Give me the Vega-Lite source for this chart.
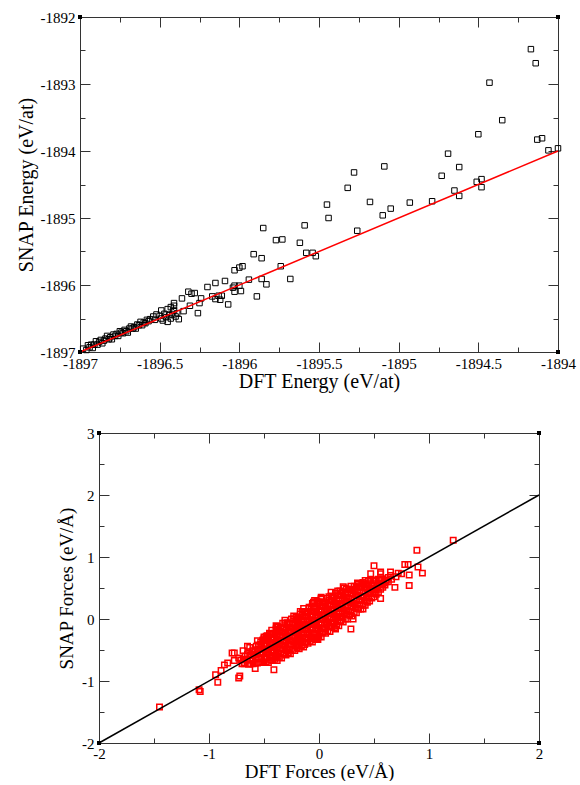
{
  "$schema": "https://vega.github.io/schema/vega-lite/v6.json",
  "padding": {"left": 16, "top": 10, "right": 5, "bottom": 0},
  "background": "white",
  "config": {
    "view": {"stroke": null},
    "font": "Liberation Serif",
    "axis": {
      "grid": false,
      "domainColor": "#333",
      "domainWidth": 1,
      "tickColor": "#333",
      "tickWidth": 1,
      "labelFont": "Liberation Serif",
      "labelFontSize": 15,
      "labelColor": "#000",
      "titleFont": "Liberation Serif",
      "titleFontSize": 20,
      "titleFontWeight": "normal",
      "titleColor": "#000",
      "labelOverlap": false,
      "labelFlush": false,
      "labelBound": false
    }
  },
  "datasets": {
    "energy": [
      {"dft": -1894.17, "snap": -1892.48}, {"dft": -1894.14, "snap": -1892.69}, {"dft": -1894.43, "snap": -1892.98},
      {"dft": -1894.35, "snap": -1893.54}, {"dft": -1894.50, "snap": -1893.75}, {"dft": -1894.13, "snap": -1893.83},
      {"dft": -1894.10, "snap": -1893.81}, {"dft": -1894.06, "snap": -1893.99}, {"dft": -1894.00, "snap": -1893.96},
      {"dft": -1894.69, "snap": -1894.04}, {"dft": -1894.62, "snap": -1894.24}, {"dft": -1894.73, "snap": -1894.37},
      {"dft": -1894.51, "snap": -1894.46}, {"dft": -1894.48, "snap": -1894.42}, {"dft": -1894.48, "snap": -1894.54},
      {"dft": -1894.65, "snap": -1894.59}, {"dft": -1894.62, "snap": -1894.67}, {"dft": -1895.28, "snap": -1894.32},
      {"dft": -1895.09, "snap": -1894.23}, {"dft": -1895.32, "snap": -1894.55},
      {"dft": -1895.45, "snap": -1894.80}, {"dft": -1895.18, "snap": -1894.76}, {"dft": -1894.93, "snap": -1894.77},
      {"dft": -1894.79, "snap": -1894.75}, {"dft": -1895.05, "snap": -1894.86}, {"dft": -1895.10, "snap": -1894.96},
      {"dft": -1895.44, "snap": -1895.00}, {"dft": -1895.59, "snap": -1895.11}, {"dft": -1895.26, "snap": -1895.19},
      {"dft": -1895.73, "snap": -1895.32}, {"dft": -1895.62, "snap": -1895.37}, {"dft": -1895.58, "snap": -1895.52},
      {"dft": -1895.54, "snap": -1895.52}, {"dft": -1895.52, "snap": -1895.57}, {"dft": -1895.74, "snap": -1895.72},
      {"dft": -1895.68, "snap": -1895.91},
      {"dft": -1895.85, "snap": -1895.15}, {"dft": -1895.77, "snap": -1895.33}, {"dft": -1895.91, "snap": -1895.54},
      {"dft": -1895.86, "snap": -1895.60}, {"dft": -1896.03, "snap": -1895.78}, {"dft": -1896.00, "snap": -1895.74},
      {"dft": -1895.98, "snap": -1895.72}, {"dft": -1895.94, "snap": -1895.92}, {"dft": -1895.86, "snap": -1895.91},
      {"dft": -1895.83, "snap": -1895.99}, {"dft": -1896.04, "snap": -1896.04}, {"dft": -1896.03, "snap": -1896.01},
      {"dft": -1896.00, "snap": -1896.01}, {"dft": -1896.03, "snap": -1896.10}, {"dft": -1895.99, "snap": -1896.09},
      {"dft": -1895.89, "snap": -1896.17}, {"dft": -1896.07, "snap": -1896.29},
      {"dft": -1896.20, "snap": -1896.03}, {"dft": -1896.15, "snap": -1895.97}, {"dft": -1896.09, "snap": -1895.94},
      {"dft": -1896.32, "snap": -1896.10}, {"dft": -1896.30, "snap": -1896.13}, {"dft": -1896.28, "snap": -1896.12},
      {"dft": -1896.36, "snap": -1896.20}, {"dft": -1896.24, "snap": -1896.20}, {"dft": -1896.17, "snap": -1896.17},
      {"dft": -1896.13, "snap": -1896.16}, {"dft": -1896.11, "snap": -1896.16}, {"dft": -1896.15, "snap": -1896.21},
      {"dft": -1896.12, "snap": -1896.22}, {"dft": -1896.41, "snap": -1896.27}, {"dft": -1896.41, "snap": -1896.31},
      {"dft": -1896.31, "snap": -1896.31}, {"dft": -1896.25, "snap": -1896.27}, {"dft": -1896.26, "snap": -1896.42},
      {"dft": -1896.49, "snap": -1896.38}, {"dft": -1896.45, "snap": -1896.36}, {"dft": -1896.43, "snap": -1896.33},
      {"dft": -1896.41, "snap": -1896.38}, {"dft": -1896.35, "snap": -1896.39}, {"dft": -1896.45, "snap": -1896.55},
      {"dft": -1896.54, "snap": -1896.47}, {"dft": -1896.52, "snap": -1896.44}, {"dft": -1896.50, "snap": -1896.46},
      {"dft": -1896.49, "snap": -1896.50}, {"dft": -1896.47, "snap": -1896.43}, {"dft": -1896.46, "snap": -1896.48},
      {"dft": -1896.44, "snap": -1896.45}, {"dft": -1896.43, "snap": -1896.50}, {"dft": -1896.42, "snap": -1896.44},
      {"dft": -1896.40, "snap": -1896.47}, {"dft": -1896.53, "snap": -1896.52}, {"dft": -1896.48, "snap": -1896.53},
      {"dft": -1896.39, "snap": -1896.42}, {"dft": -1896.38, "snap": -1896.51},
      {"dft": -1896.98, "snap": -1896.95}, {"dft": -1896.96, "snap": -1896.97}, {"dft": -1896.95, "snap": -1896.90},
      {"dft": -1896.94, "snap": -1896.93}, {"dft": -1896.93, "snap": -1896.89}, {"dft": -1896.92, "snap": -1896.94},
      {"dft": -1896.91, "snap": -1896.89}, {"dft": -1896.90, "snap": -1896.84}, {"dft": -1896.89, "snap": -1896.89},
      {"dft": -1896.88, "snap": -1896.85}, {"dft": -1896.87, "snap": -1896.82}, {"dft": -1896.86, "snap": -1896.87},
      {"dft": -1896.85, "snap": -1896.83}, {"dft": -1896.84, "snap": -1896.80}, {"dft": -1896.83, "snap": -1896.76},
      {"dft": -1896.82, "snap": -1896.81}, {"dft": -1896.81, "snap": -1896.78}, {"dft": -1896.80, "snap": -1896.81},
      {"dft": -1896.79, "snap": -1896.74}, {"dft": -1896.78, "snap": -1896.76}, {"dft": -1896.77, "snap": -1896.73},
      {"dft": -1896.76, "snap": -1896.76}, {"dft": -1896.75, "snap": -1896.69}, {"dft": -1896.74, "snap": -1896.71},
      {"dft": -1896.73, "snap": -1896.72}, {"dft": -1896.72, "snap": -1896.67}, {"dft": -1896.71, "snap": -1896.69},
      {"dft": -1896.70, "snap": -1896.71}, {"dft": -1896.69, "snap": -1896.65}, {"dft": -1896.68, "snap": -1896.62},
      {"dft": -1896.67, "snap": -1896.65}, {"dft": -1896.66, "snap": -1896.63}, {"dft": -1896.65, "snap": -1896.65},
      {"dft": -1896.64, "snap": -1896.59}, {"dft": -1896.63, "snap": -1896.60}, {"dft": -1896.62, "snap": -1896.55},
      {"dft": -1896.61, "snap": -1896.60}, {"dft": -1896.60, "snap": -1896.56}, {"dft": -1896.59, "snap": -1896.57},
      {"dft": -1896.58, "snap": -1896.52}, {"dft": -1896.57, "snap": -1896.54}, {"dft": -1896.56, "snap": -1896.51}
    ],
    "energyFit": [{"dft": -1897, "snap": -1897}, {"dft": -1894, "snap": -1894}],
    "energyCorners": [{"dft": -1897, "snap": -1892}, {"dft": -1894, "snap": -1892}, {"dft": -1897, "snap": -1897}, {"dft": -1894, "snap": -1897}],
    "forces": [
      {"dft": -0.68, "snap": -0.72}, {"dft": -0.69, "snap": -0.65}, {"dft": -0.67, "snap": -0.60}, {"dft": -0.71, "snap": -0.66}, {"dft": -0.70, "snap": -0.72},
      {"dft": -0.64, "snap": -0.73}, {"dft": -0.65, "snap": -0.66}, {"dft": -0.63, "snap": -0.58},
      {"dft": -0.62, "snap": -0.72}, {"dft": -0.63, "snap": -0.66}, {"dft": -0.62, "snap": -0.59}, {"dft": -0.61, "snap": -0.53},
      {"dft": -0.60, "snap": -0.72}, {"dft": -0.61, "snap": -0.65}, {"dft": -0.59, "snap": -0.58}, {"dft": -0.60, "snap": -0.51},
      {"dft": -0.58, "snap": -0.71}, {"dft": -0.57, "snap": -0.64}, {"dft": -0.59, "snap": -0.57}, {"dft": -0.58, "snap": -0.50}, {"dft": -0.57, "snap": -0.44},
      {"dft": -0.56, "snap": -0.71}, {"dft": -0.55, "snap": -0.64}, {"dft": -0.57, "snap": -0.57}, {"dft": -0.56, "snap": -0.50}, {"dft": -0.55, "snap": -0.43},
      {"dft": -0.54, "snap": -0.70}, {"dft": -0.55, "snap": -0.63}, {"dft": -0.53, "snap": -0.56}, {"dft": -0.54, "snap": -0.49}, {"dft": -0.55, "snap": -0.42}, {"dft": -0.53, "snap": -0.37},
      {"dft": -0.52, "snap": -0.69}, {"dft": -0.53, "snap": -0.62}, {"dft": -0.51, "snap": -0.55}, {"dft": -0.52, "snap": -0.48}, {"dft": -0.53, "snap": -0.41}, {"dft": -0.51, "snap": -0.34},
      {"dft": -0.50, "snap": -0.70}, {"dft": -0.49, "snap": -0.63}, {"dft": -0.51, "snap": -0.56}, {"dft": -0.50, "snap": -0.49}, {"dft": -0.49, "snap": -0.42}, {"dft": -0.51, "snap": -0.35}, {"dft": -0.50, "snap": -0.29},
      {"dft": -0.48, "snap": -0.69}, {"dft": -0.47, "snap": -0.62}, {"dft": -0.49, "snap": -0.55}, {"dft": -0.48, "snap": -0.48}, {"dft": -0.47, "snap": -0.41}, {"dft": -0.49, "snap": -0.34}, {"dft": -0.48, "snap": -0.28},
      {"dft": -0.46, "snap": -0.70}, {"dft": -0.45, "snap": -0.63}, {"dft": -0.47, "snap": -0.56}, {"dft": -0.46, "snap": -0.49}, {"dft": -0.45, "snap": -0.42}, {"dft": -0.47, "snap": -0.35}, {"dft": -0.46, "snap": -0.29}, {"dft": -0.45, "snap": -0.23},
      {"dft": -0.44, "snap": -0.66}, {"dft": -0.45, "snap": -0.59}, {"dft": -0.43, "snap": -0.52}, {"dft": -0.44, "snap": -0.45}, {"dft": -0.45, "snap": -0.38}, {"dft": -0.43, "snap": -0.31}, {"dft": -0.44, "snap": -0.24},
      {"dft": -0.42, "snap": -0.67}, {"dft": -0.43, "snap": -0.60}, {"dft": -0.41, "snap": -0.53}, {"dft": -0.42, "snap": -0.46}, {"dft": -0.43, "snap": -0.39}, {"dft": -0.41, "snap": -0.32}, {"dft": -0.42, "snap": -0.25}, {"dft": -0.43, "snap": -0.18},
      {"dft": -0.40, "snap": -0.65}, {"dft": -0.39, "snap": -0.58}, {"dft": -0.41, "snap": -0.51}, {"dft": -0.40, "snap": -0.44}, {"dft": -0.39, "snap": -0.37}, {"dft": -0.41, "snap": -0.30}, {"dft": -0.40, "snap": -0.23}, {"dft": -0.39, "snap": -0.16},
      {"dft": -0.38, "snap": -0.67}, {"dft": -0.37, "snap": -0.60}, {"dft": -0.39, "snap": -0.53}, {"dft": -0.38, "snap": -0.46}, {"dft": -0.37, "snap": -0.39}, {"dft": -0.39, "snap": -0.32}, {"dft": -0.38, "snap": -0.25}, {"dft": -0.37, "snap": -0.18}, {"dft": -0.39, "snap": -0.11},
      {"dft": -0.36, "snap": -0.62}, {"dft": -0.37, "snap": -0.55}, {"dft": -0.35, "snap": -0.48}, {"dft": -0.36, "snap": -0.41}, {"dft": -0.37, "snap": -0.34}, {"dft": -0.35, "snap": -0.27}, {"dft": -0.36, "snap": -0.20}, {"dft": -0.37, "snap": -0.13},
      {"dft": -0.34, "snap": -0.63}, {"dft": -0.35, "snap": -0.56}, {"dft": -0.33, "snap": -0.49}, {"dft": -0.34, "snap": -0.42}, {"dft": -0.35, "snap": -0.35}, {"dft": -0.33, "snap": -0.28}, {"dft": -0.34, "snap": -0.21}, {"dft": -0.35, "snap": -0.14}, {"dft": -0.33, "snap": -0.07},
      {"dft": -0.32, "snap": -0.56}, {"dft": -0.31, "snap": -0.49}, {"dft": -0.33, "snap": -0.42}, {"dft": -0.32, "snap": -0.35}, {"dft": -0.31, "snap": -0.28}, {"dft": -0.33, "snap": -0.21}, {"dft": -0.32, "snap": -0.14}, {"dft": -0.31, "snap": -0.07},
      {"dft": -0.30, "snap": -0.58}, {"dft": -0.29, "snap": -0.51}, {"dft": -0.31, "snap": -0.44}, {"dft": -0.30, "snap": -0.37}, {"dft": -0.29, "snap": -0.30}, {"dft": -0.31, "snap": -0.23}, {"dft": -0.30, "snap": -0.16}, {"dft": -0.29, "snap": -0.09}, {"dft": -0.31, "snap": -0.02},
      {"dft": -0.28, "snap": -0.55}, {"dft": -0.29, "snap": -0.48}, {"dft": -0.27, "snap": -0.41}, {"dft": -0.28, "snap": -0.34}, {"dft": -0.29, "snap": -0.27}, {"dft": -0.27, "snap": -0.20}, {"dft": -0.28, "snap": -0.13}, {"dft": -0.29, "snap": -0.06},
      {"dft": -0.26, "snap": -0.56}, {"dft": -0.27, "snap": -0.49}, {"dft": -0.25, "snap": -0.42}, {"dft": -0.26, "snap": -0.35}, {"dft": -0.27, "snap": -0.28}, {"dft": -0.25, "snap": -0.21}, {"dft": -0.26, "snap": -0.14}, {"dft": -0.27, "snap": -0.07}, {"dft": -0.25, "snap": 0.00},
      {"dft": -0.24, "snap": -0.49}, {"dft": -0.23, "snap": -0.42}, {"dft": -0.25, "snap": -0.35}, {"dft": -0.24, "snap": -0.28}, {"dft": -0.23, "snap": -0.21}, {"dft": -0.25, "snap": -0.14}, {"dft": -0.24, "snap": -0.07}, {"dft": -0.23, "snap": 0.00},
      {"dft": -0.22, "snap": -0.51}, {"dft": -0.21, "snap": -0.44}, {"dft": -0.23, "snap": -0.37}, {"dft": -0.22, "snap": -0.30}, {"dft": -0.21, "snap": -0.23}, {"dft": -0.23, "snap": -0.16}, {"dft": -0.22, "snap": -0.09}, {"dft": -0.21, "snap": -0.02}, {"dft": -0.23, "snap": 0.05},
      {"dft": -0.20, "snap": -0.46}, {"dft": -0.21, "snap": -0.39}, {"dft": -0.19, "snap": -0.32}, {"dft": -0.20, "snap": -0.25}, {"dft": -0.21, "snap": -0.18}, {"dft": -0.19, "snap": -0.11}, {"dft": -0.20, "snap": -0.04}, {"dft": -0.21, "snap": 0.03},
      {"dft": -0.18, "snap": -0.48}, {"dft": -0.19, "snap": -0.41}, {"dft": -0.17, "snap": -0.34}, {"dft": -0.18, "snap": -0.27}, {"dft": -0.19, "snap": -0.20}, {"dft": -0.17, "snap": -0.13}, {"dft": -0.18, "snap": -0.06}, {"dft": -0.19, "snap": 0.01}, {"dft": -0.17, "snap": 0.08},
      {"dft": -0.16, "snap": -0.43}, {"dft": -0.15, "snap": -0.36}, {"dft": -0.17, "snap": -0.29}, {"dft": -0.16, "snap": -0.22}, {"dft": -0.15, "snap": -0.15}, {"dft": -0.17, "snap": -0.08}, {"dft": -0.16, "snap": -0.01}, {"dft": -0.15, "snap": 0.06}, {"dft": -0.17, "snap": 0.12},
      {"dft": -0.14, "snap": -0.45}, {"dft": -0.13, "snap": -0.38}, {"dft": -0.15, "snap": -0.31}, {"dft": -0.14, "snap": -0.24}, {"dft": -0.13, "snap": -0.17}, {"dft": -0.15, "snap": -0.10}, {"dft": -0.14, "snap": -0.03}, {"dft": -0.13, "snap": 0.04}, {"dft": -0.15, "snap": 0.11}, {"dft": -0.14, "snap": 0.17},
      {"dft": -0.12, "snap": -0.37}, {"dft": -0.13, "snap": -0.30}, {"dft": -0.11, "snap": -0.23}, {"dft": -0.12, "snap": -0.16}, {"dft": -0.13, "snap": -0.09}, {"dft": -0.11, "snap": -0.02}, {"dft": -0.12, "snap": 0.05}, {"dft": -0.13, "snap": 0.12},
      {"dft": -0.10, "snap": -0.39}, {"dft": -0.11, "snap": -0.32}, {"dft": -0.09, "snap": -0.25}, {"dft": -0.10, "snap": -0.18}, {"dft": -0.11, "snap": -0.11}, {"dft": -0.09, "snap": -0.04}, {"dft": -0.10, "snap": 0.03}, {"dft": -0.11, "snap": 0.10}, {"dft": -0.09, "snap": 0.17},
      {"dft": -0.08, "snap": -0.36}, {"dft": -0.07, "snap": -0.29}, {"dft": -0.09, "snap": -0.22}, {"dft": -0.08, "snap": -0.15}, {"dft": -0.07, "snap": -0.08}, {"dft": -0.09, "snap": -0.01}, {"dft": -0.08, "snap": 0.06}, {"dft": -0.07, "snap": 0.13}, {"dft": -0.09, "snap": 0.19},
      {"dft": -0.06, "snap": -0.37}, {"dft": -0.05, "snap": -0.30}, {"dft": -0.07, "snap": -0.23}, {"dft": -0.06, "snap": -0.16}, {"dft": -0.05, "snap": -0.09}, {"dft": -0.07, "snap": -0.02}, {"dft": -0.06, "snap": 0.05}, {"dft": -0.05, "snap": 0.12}, {"dft": -0.07, "snap": 0.19}, {"dft": -0.06, "snap": 0.25},
      {"dft": -0.04, "snap": -0.30}, {"dft": -0.05, "snap": -0.23}, {"dft": -0.03, "snap": -0.16}, {"dft": -0.04, "snap": -0.09}, {"dft": -0.05, "snap": -0.02}, {"dft": -0.03, "snap": 0.05}, {"dft": -0.04, "snap": 0.12}, {"dft": -0.05, "snap": 0.19},
      {"dft": -0.02, "snap": -0.32}, {"dft": -0.03, "snap": -0.25}, {"dft": -0.01, "snap": -0.18}, {"dft": -0.02, "snap": -0.11}, {"dft": -0.03, "snap": -0.04}, {"dft": -0.01, "snap": 0.03}, {"dft": -0.02, "snap": 0.10}, {"dft": -0.03, "snap": 0.17}, {"dft": -0.01, "snap": 0.24}, {"dft": -0.02, "snap": 0.29},
      {"dft": 0.00, "snap": -0.28}, {"dft": 0.01, "snap": -0.21}, {"dft": -0.01, "snap": -0.14}, {"dft": 0.00, "snap": -0.07}, {"dft": 0.01, "snap": 0.00}, {"dft": -0.01, "snap": 0.07}, {"dft": 0.00, "snap": 0.14}, {"dft": 0.01, "snap": 0.21}, {"dft": -0.01, "snap": 0.27},
      {"dft": 0.02, "snap": -0.29}, {"dft": 0.03, "snap": -0.22}, {"dft": 0.01, "snap": -0.15}, {"dft": 0.02, "snap": -0.08}, {"dft": 0.03, "snap": -0.01}, {"dft": 0.01, "snap": 0.06}, {"dft": 0.02, "snap": 0.13}, {"dft": 0.03, "snap": 0.20}, {"dft": 0.01, "snap": 0.27}, {"dft": 0.02, "snap": 0.32},
      {"dft": 0.04, "snap": -0.21}, {"dft": 0.03, "snap": -0.14}, {"dft": 0.05, "snap": -0.07}, {"dft": 0.04, "snap": 0.00}, {"dft": 0.03, "snap": 0.07}, {"dft": 0.05, "snap": 0.14}, {"dft": 0.04, "snap": 0.21}, {"dft": 0.03, "snap": 0.28},
      {"dft": 0.06, "snap": -0.23}, {"dft": 0.05, "snap": -0.16}, {"dft": 0.07, "snap": -0.09}, {"dft": 0.06, "snap": -0.02}, {"dft": 0.05, "snap": 0.05}, {"dft": 0.07, "snap": 0.12}, {"dft": 0.06, "snap": 0.19}, {"dft": 0.05, "snap": 0.26}, {"dft": 0.07, "snap": 0.33},
      {"dft": 0.08, "snap": -0.19}, {"dft": 0.09, "snap": -0.12}, {"dft": 0.07, "snap": -0.05}, {"dft": 0.08, "snap": 0.02}, {"dft": 0.09, "snap": 0.09}, {"dft": 0.07, "snap": 0.16}, {"dft": 0.08, "snap": 0.23}, {"dft": 0.09, "snap": 0.30},
      {"dft": 0.10, "snap": -0.20}, {"dft": 0.11, "snap": -0.13}, {"dft": 0.09, "snap": -0.06}, {"dft": 0.10, "snap": 0.01}, {"dft": 0.11, "snap": 0.08}, {"dft": 0.09, "snap": 0.15}, {"dft": 0.10, "snap": 0.22}, {"dft": 0.11, "snap": 0.29}, {"dft": 0.09, "snap": 0.36},
      {"dft": 0.12, "snap": -0.12}, {"dft": 0.11, "snap": -0.05}, {"dft": 0.13, "snap": 0.02}, {"dft": 0.12, "snap": 0.09}, {"dft": 0.11, "snap": 0.16}, {"dft": 0.13, "snap": 0.23}, {"dft": 0.12, "snap": 0.30}, {"dft": 0.11, "snap": 0.37},
      {"dft": 0.14, "snap": -0.14}, {"dft": 0.13, "snap": -0.07}, {"dft": 0.15, "snap": 0.00}, {"dft": 0.14, "snap": 0.07}, {"dft": 0.13, "snap": 0.14}, {"dft": 0.15, "snap": 0.21}, {"dft": 0.14, "snap": 0.28}, {"dft": 0.13, "snap": 0.35}, {"dft": 0.15, "snap": 0.42},
      {"dft": 0.16, "snap": -0.10}, {"dft": 0.17, "snap": -0.03}, {"dft": 0.15, "snap": 0.04}, {"dft": 0.16, "snap": 0.11}, {"dft": 0.17, "snap": 0.18}, {"dft": 0.15, "snap": 0.25}, {"dft": 0.16, "snap": 0.32}, {"dft": 0.17, "snap": 0.39},
      {"dft": 0.18, "snap": -0.11}, {"dft": 0.19, "snap": -0.04}, {"dft": 0.17, "snap": 0.03}, {"dft": 0.18, "snap": 0.10}, {"dft": 0.19, "snap": 0.17}, {"dft": 0.17, "snap": 0.24}, {"dft": 0.18, "snap": 0.31}, {"dft": 0.19, "snap": 0.38}, {"dft": 0.17, "snap": 0.45},
      {"dft": 0.20, "snap": -0.03}, {"dft": 0.19, "snap": 0.04}, {"dft": 0.21, "snap": 0.11}, {"dft": 0.20, "snap": 0.18}, {"dft": 0.19, "snap": 0.25}, {"dft": 0.21, "snap": 0.32}, {"dft": 0.20, "snap": 0.39}, {"dft": 0.19, "snap": 0.45},
      {"dft": 0.22, "snap": -0.05}, {"dft": 0.21, "snap": 0.02}, {"dft": 0.23, "snap": 0.09}, {"dft": 0.22, "snap": 0.16}, {"dft": 0.21, "snap": 0.23}, {"dft": 0.23, "snap": 0.30}, {"dft": 0.22, "snap": 0.37}, {"dft": 0.21, "snap": 0.44}, {"dft": 0.23, "snap": 0.50},
      {"dft": 0.24, "snap": 0.00}, {"dft": 0.25, "snap": 0.07}, {"dft": 0.23, "snap": 0.14}, {"dft": 0.24, "snap": 0.21}, {"dft": 0.25, "snap": 0.28}, {"dft": 0.23, "snap": 0.35}, {"dft": 0.24, "snap": 0.42}, {"dft": 0.25, "snap": 0.48},
      {"dft": 0.26, "snap": 0.00}, {"dft": 0.27, "snap": 0.07}, {"dft": 0.25, "snap": 0.14}, {"dft": 0.26, "snap": 0.21}, {"dft": 0.27, "snap": 0.28}, {"dft": 0.25, "snap": 0.35}, {"dft": 0.26, "snap": 0.42}, {"dft": 0.27, "snap": 0.48},
      {"dft": 0.28, "snap": 0.06}, {"dft": 0.27, "snap": 0.13}, {"dft": 0.29, "snap": 0.20}, {"dft": 0.28, "snap": 0.27}, {"dft": 0.27, "snap": 0.34}, {"dft": 0.29, "snap": 0.41}, {"dft": 0.28, "snap": 0.48},
      {"dft": 0.30, "snap": 0.05}, {"dft": 0.29, "snap": 0.12}, {"dft": 0.31, "snap": 0.19}, {"dft": 0.30, "snap": 0.26}, {"dft": 0.29, "snap": 0.33}, {"dft": 0.31, "snap": 0.40}, {"dft": 0.30, "snap": 0.47}, {"dft": 0.29, "snap": 0.53},
      {"dft": 0.32, "snap": 0.11}, {"dft": 0.33, "snap": 0.18}, {"dft": 0.31, "snap": 0.25}, {"dft": 0.32, "snap": 0.32}, {"dft": 0.33, "snap": 0.39}, {"dft": 0.31, "snap": 0.46}, {"dft": 0.32, "snap": 0.53},
      {"dft": 0.34, "snap": 0.10}, {"dft": 0.35, "snap": 0.17}, {"dft": 0.33, "snap": 0.24}, {"dft": 0.34, "snap": 0.31}, {"dft": 0.35, "snap": 0.38}, {"dft": 0.33, "snap": 0.45}, {"dft": 0.34, "snap": 0.52}, {"dft": 0.35, "snap": 0.57},
      {"dft": 0.36, "snap": 0.16}, {"dft": 0.35, "snap": 0.23}, {"dft": 0.37, "snap": 0.30}, {"dft": 0.36, "snap": 0.37}, {"dft": 0.35, "snap": 0.44}, {"dft": 0.37, "snap": 0.51}, {"dft": 0.36, "snap": 0.56},
      {"dft": 0.38, "snap": 0.16}, {"dft": 0.37, "snap": 0.23}, {"dft": 0.39, "snap": 0.30}, {"dft": 0.38, "snap": 0.37}, {"dft": 0.37, "snap": 0.44}, {"dft": 0.39, "snap": 0.51}, {"dft": 0.38, "snap": 0.57},
      {"dft": 0.40, "snap": 0.22}, {"dft": 0.41, "snap": 0.29}, {"dft": 0.39, "snap": 0.36}, {"dft": 0.40, "snap": 0.43}, {"dft": 0.41, "snap": 0.50}, {"dft": 0.39, "snap": 0.57},
      {"dft": 0.42, "snap": 0.22}, {"dft": 0.43, "snap": 0.29}, {"dft": 0.41, "snap": 0.36}, {"dft": 0.42, "snap": 0.43}, {"dft": 0.43, "snap": 0.50}, {"dft": 0.41, "snap": 0.57}, {"dft": 0.42, "snap": 0.62},
      {"dft": 0.44, "snap": 0.27}, {"dft": 0.43, "snap": 0.34}, {"dft": 0.45, "snap": 0.41}, {"dft": 0.44, "snap": 0.48}, {"dft": 0.43, "snap": 0.55}, {"dft": 0.45, "snap": 0.61},
      {"dft": 0.46, "snap": 0.29}, {"dft": 0.45, "snap": 0.36}, {"dft": 0.47, "snap": 0.43}, {"dft": 0.46, "snap": 0.50}, {"dft": 0.45, "snap": 0.57}, {"dft": 0.47, "snap": 0.63},
      {"dft": 0.48, "snap": 0.34}, {"dft": 0.49, "snap": 0.41}, {"dft": 0.47, "snap": 0.48}, {"dft": 0.48, "snap": 0.55}, {"dft": 0.49, "snap": 0.62},
      {"dft": 0.50, "snap": 0.36}, {"dft": 0.51, "snap": 0.43}, {"dft": 0.49, "snap": 0.50}, {"dft": 0.50, "snap": 0.57}, {"dft": 0.51, "snap": 0.63},
      {"dft": 0.52, "snap": 0.40}, {"dft": 0.51, "snap": 0.47}, {"dft": 0.53, "snap": 0.54}, {"dft": 0.52, "snap": 0.61},
      {"dft": 0.54, "snap": 0.43}, {"dft": 0.53, "snap": 0.50}, {"dft": 0.55, "snap": 0.57}, {"dft": 0.54, "snap": 0.64},
      {"dft": 0.56, "snap": 0.48}, {"dft": 0.57, "snap": 0.55}, {"dft": 0.55, "snap": 0.62},
      {"dft": 0.58, "snap": 0.51}, {"dft": 0.59, "snap": 0.58}, {"dft": 0.57, "snap": 0.65},
      {"dft": 0.60, "snap": 0.55}, {"dft": 0.61, "snap": 0.63}, {"dft": 0.63, "snap": 0.60}, {"dft": 0.63, "snap": 0.67},
      {"dft": 1.22, "snap": 1.27}, {"dft": 0.89, "snap": 1.11}, {"dft": 0.50, "snap": 0.86}, {"dft": 0.78, "snap": 0.88},
      {"dft": 0.81, "snap": 0.88}, {"dft": 0.90, "snap": 0.84}, {"dft": 0.94, "snap": 0.74}, {"dft": 0.82, "snap": 0.54},
      {"dft": 0.69, "snap": 0.51}, {"dft": 0.56, "snap": 0.33}, {"dft": 0.56, "snap": 0.76}, {"dft": 0.65, "snap": 0.76},
      {"dft": 0.82, "snap": 0.71}, {"dft": -0.05, "snap": 0.27}, {"dft": 0.02, "snap": 0.35}, {"dft": 0.22, "snap": 0.52},
      {"dft": 0.29, "snap": -0.16}, {"dft": 0.15, "snap": -0.16}, {"dft": 0.11, "snap": 0.43}, {"dft": 0.35, "snap": 0.58},
      {"dft": 0.40, "snap": 0.59}, {"dft": 0.47, "snap": 0.73}, {"dft": 0.56, "snap": 0.73}, {"dft": 0.65, "snap": 0.70},
      {"dft": 0.75, "snap": 0.73}, {"dft": 0.40, "snap": 0.16}, {"dft": 0.31, "snap": 0.00}, {"dft": -0.06, "snap": -0.32},
      {"dft": -0.03, "snap": -0.33}, {"dft": 0.70, "snap": 0.68}, {"dft": 0.72, "snap": 0.74}, {"dft": 0.61, "snap": 0.60},
      {"dft": 0.66, "snap": 0.64}, {"dft": -1.45, "snap": -1.42}, {"dft": -1.09, "snap": -1.14}, {"dft": -1.08, "snap": -1.17},
      {"dft": -0.94, "snap": -0.90}, {"dft": -0.92, "snap": -1.02}, {"dft": -0.89, "snap": -0.83}, {"dft": -0.83, "snap": -0.71},
      {"dft": -0.79, "snap": -0.55}, {"dft": -0.73, "snap": -0.95}, {"dft": -0.58, "snap": -0.80}, {"dft": -0.41, "snap": -0.82},
      {"dft": -0.77, "snap": -0.67}, {"dft": -0.73, "snap": -0.63}, {"dft": -0.68, "snap": -0.70}, {"dft": -0.65, "snap": -0.56},
      {"dft": -0.63, "snap": -0.46}, {"dft": -0.56, "snap": -0.35}, {"dft": -0.50, "snap": -0.32}, {"dft": -0.19, "snap": 0.03},
      {"dft": -0.38, "snap": -0.12}, {"dft": -0.47, "snap": -0.27}, {"dft": -0.65, "snap": -0.44}, {"dft": -0.69, "snap": -0.51},
      {"dft": -0.77, "snap": -0.55}, {"dft": -0.86, "snap": -0.74}, {"dft": -0.72, "snap": -0.92}, {"dft": -0.28, "snap": -0.54},
      {"dft": -0.13, "snap": -0.41}, {"dft": -0.01, "snap": -0.33}, {"dft": 0.02, "snap": 0.33}, {"dft": -0.04, "snap": 0.30}
    ],
    "forcesFit": [{"dft": -2, "snap": -2}, {"dft": 2, "snap": 2}],
    "forcesCorners": [{"dft": -2, "snap": 3}, {"dft": 2, "snap": 3}, {"dft": -2, "snap": -2}, {"dft": 2, "snap": -2}]
  },
  "vconcat": [
    {
      "width": 478,
      "height": 335,
      "layer": [
        {
          "data": {"name": "energy"},
          "mark": {"type": "point", "shape": "square", "filled": false, "color": "#000", "size": 30, "strokeWidth": 1, "opacity": 1},
          "encoding": {
            "x": {"field": "dft", "type": "quantitative", "scale": {"domain": [-1897, -1894], "nice": false, "zero": false},
              "axis": {"orient": "bottom", "values": [-1897, -1896.5, -1896, -1895.5, -1895, -1894.5, -1894], "labelExpr": "'' + datum.value",
                "tickSize": -10, "labelPadding": 14, "title": "DFT Energy (eV/at)", "titlePadding": 0}},
            "y": {"field": "snap", "type": "quantitative", "scale": {"domain": [-1897, -1892], "nice": false, "zero": false},
              "axis": {"orient": "left", "values": [-1897, -1896, -1895, -1894, -1893, -1892], "labelExpr": "'' + datum.value",
                "tickSize": -10, "labelPadding": 15, "title": "SNAP Energy (eV/at)", "titlePadding": 4}}
          }
        },
        {
          "data": {"name": "energyFit"},
          "mark": {"type": "line", "color": "#ff0000", "strokeWidth": 1.5},
          "encoding": {
            "x": {"field": "dft", "type": "quantitative", "scale": {"domain": [-1897, -1894], "nice": false, "zero": false},
              "axis": {"orient": "top", "values": [-1897, -1896.5, -1896, -1895.5, -1895, -1894.5, -1894], "tickSize": -10, "labels": false, "title": null}},
            "y": {"field": "snap", "type": "quantitative", "scale": {"domain": [-1897, -1892], "nice": false, "zero": false},
              "axis": {"orient": "right", "values": [-1897, -1896, -1895, -1894, -1893, -1892], "tickSize": -10, "labels": false, "title": null}}
          }
        },
        {
          "data": {"name": "energyCorners"},
          "mark": {"type": "point", "shape": "square", "filled": true, "color": "#000", "size": 16, "opacity": 1},
          "encoding": {
            "x": {"field": "dft", "type": "quantitative",
              "axis": {"orient": "bottom", "values": [-1896.75, -1896.25, -1895.75, -1895.25, -1894.75, -1894.25], "tickSize": -5, "labels": false, "domain": false, "title": null}},
            "y": {"field": "snap", "type": "quantitative",
              "axis": {"orient": "left", "values": [-1896.5, -1895.5, -1894.5, -1893.5, -1892.5], "tickSize": -5, "labels": false, "domain": false, "title": null}}
          }
        },
        {
          "data": {"name": "energyCorners"},
          "mark": {"type": "point", "shape": "square", "filled": true, "color": "#000", "size": 16, "opacity": 1},
          "encoding": {
            "x": {"field": "dft", "type": "quantitative",
              "axis": {"orient": "top", "values": [-1896.75, -1896.25, -1895.75, -1895.25, -1894.75, -1894.25], "tickSize": -5, "labels": false, "domain": false, "title": null}},
            "y": {"field": "snap", "type": "quantitative",
              "axis": {"orient": "right", "values": [-1896.5, -1895.5, -1894.5, -1893.5, -1892.5], "tickSize": -5, "labels": false, "domain": false, "title": null}}
          }
        }
      ],
      "resolve": {"axis": {"x": "independent", "y": "independent"}}
    },
    {
      "width": 440,
      "height": 310,
      "layer": [
        {
          "data": {"name": "forces"},
          "mark": {"type": "point", "shape": "square", "filled": false, "color": "#ff0000", "size": 30, "strokeWidth": 1.5, "opacity": 1},
          "encoding": {
            "x": {"field": "dft", "type": "quantitative", "scale": {"domain": [-2, 2], "nice": false, "zero": false},
              "axis": {"orient": "bottom", "values": [-2, -1, 0, 1, 2], "labelExpr": "'' + datum.value",
                "tickSize": -10, "labelPadding": 13, "title": "DFT Forces (eV/Å)", "titleFontSize": 19, "titlePadding": 1}},
            "y": {"field": "snap", "type": "quantitative", "scale": {"domain": [-2, 3], "nice": false, "zero": false},
              "axis": {"orient": "left", "values": [-2, -1, 0, 1, 2, 3], "labelExpr": "'' + datum.value",
                "tickSize": -10, "labelPadding": 15, "title": "SNAP Forces (eV/Å)", "titleFontSize": 19, "titlePadding": 5}}
          }
        },
        {
          "data": {"name": "forcesFit"},
          "mark": {"type": "line", "color": "#000", "strokeWidth": 1.5},
          "encoding": {
            "x": {"field": "dft", "type": "quantitative", "scale": {"domain": [-2, 2], "nice": false, "zero": false},
              "axis": {"orient": "top", "values": [-2, -1, 0, 1, 2], "tickSize": -10, "labels": false, "title": null}},
            "y": {"field": "snap", "type": "quantitative", "scale": {"domain": [-2, 3], "nice": false, "zero": false},
              "axis": {"orient": "right", "values": [-2, -1, 0, 1, 2, 3], "tickSize": -10, "labels": false, "title": null}}
          }
        },
        {
          "data": {"name": "forcesCorners"},
          "mark": {"type": "point", "shape": "square", "filled": true, "color": "#000", "size": 16, "opacity": 1},
          "encoding": {
            "x": {"field": "dft", "type": "quantitative",
              "axis": {"orient": "bottom", "values": [-1.5, -0.5, 0.5, 1.5], "tickSize": -5, "labels": false, "domain": false, "title": null}},
            "y": {"field": "snap", "type": "quantitative",
              "axis": {"orient": "left", "values": [-1.5, -0.5, 0.5, 1.5, 2.5], "tickSize": -5, "labels": false, "domain": false, "title": null}}
          }
        },
        {
          "data": {"name": "forcesCorners"},
          "mark": {"type": "point", "shape": "square", "filled": true, "color": "#000", "size": 16, "opacity": 1},
          "encoding": {
            "x": {"field": "dft", "type": "quantitative",
              "axis": {"orient": "top", "values": [-1.5, -0.5, 0.5, 1.5], "tickSize": -5, "labels": false, "domain": false, "title": null}},
            "y": {"field": "snap", "type": "quantitative",
              "axis": {"orient": "right", "values": [-1.5, -0.5, 0.5, 1.5, 2.5], "tickSize": -5, "labels": false, "domain": false, "title": null}}
          }
        }
      ],
      "resolve": {"axis": {"x": "independent", "y": "independent"}}
    }
  ],
  "spacing": 81,
  "bounds": "flush",
  "center": true
}
